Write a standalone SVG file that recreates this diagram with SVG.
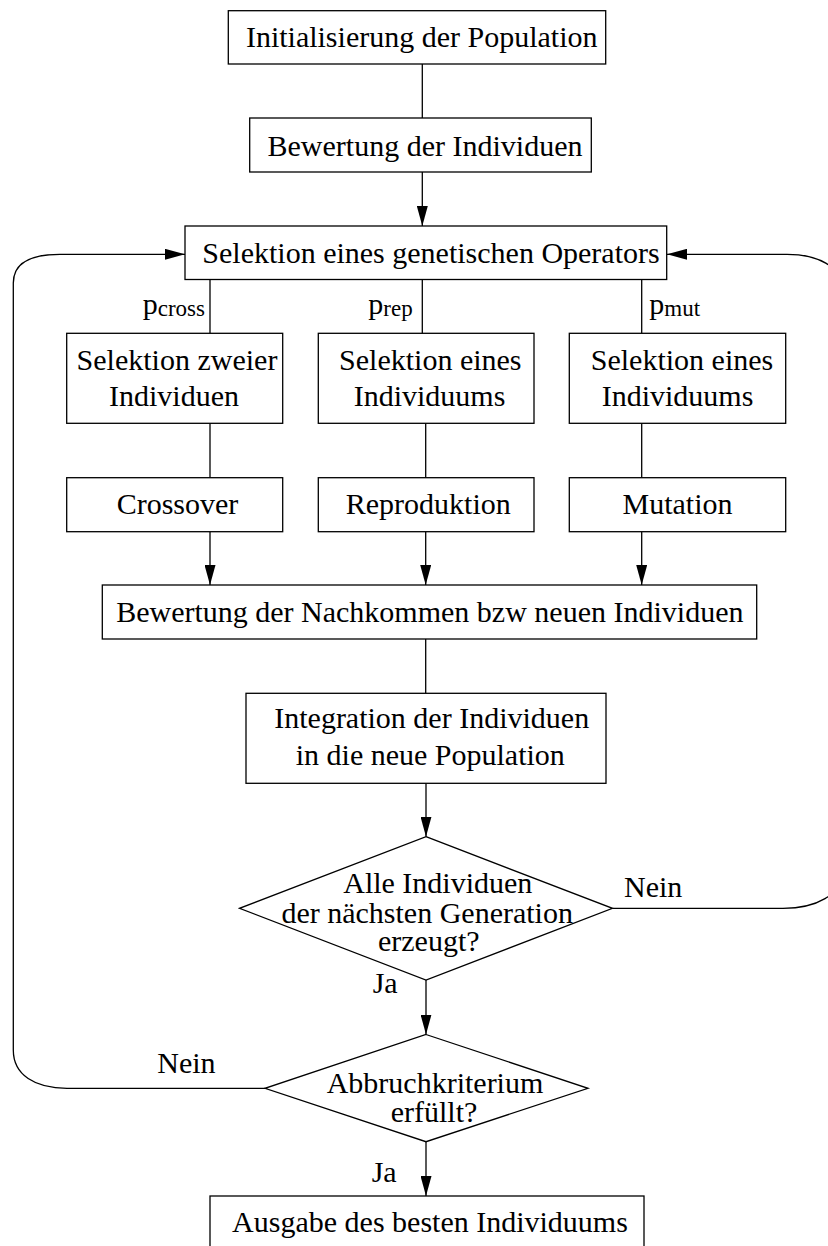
<svg xmlns="http://www.w3.org/2000/svg" width="828" height="1246" viewBox="0 0 828 1246">
<style>
.box{fill:#fff;stroke:#000;stroke-width:1.3}
.conn{fill:none;stroke:#000;stroke-width:1.3}
text{font-family:"Liberation Serif","Times New Roman",serif;font-size:30px;fill:#000}
.m{text-anchor:middle}
.sub{font-size:23px}
</style>
<defs>
<marker id="ah" markerUnits="userSpaceOnUse" markerWidth="20" markerHeight="11" refX="20" refY="5.5" orient="auto">
<path d="M0,0 L20,5.5 L0,11 z" fill="#000"/>
</marker>
</defs>
<rect width="828" height="1246" fill="#fff"/>
<g id="connectors">
<line class="conn" x1="422.3" y1="64" x2="422.3" y2="118"/>
<line class="conn" x1="422.3" y1="172" x2="422.3" y2="226" marker-end="url(#ah)"/>
<line class="conn" x1="210" y1="279.5" x2="210" y2="333.3"/>
<line class="conn" x1="422.3" y1="279.5" x2="422.3" y2="333.3"/>
<line class="conn" x1="641.7" y1="279.5" x2="641.7" y2="333.3"/>
<line class="conn" x1="210" y1="423.3" x2="210" y2="477.7"/>
<line class="conn" x1="425.7" y1="423.3" x2="425.7" y2="477.7"/>
<line class="conn" x1="641.7" y1="423.3" x2="641.7" y2="477.7"/>
<line class="conn" x1="210" y1="531.7" x2="210" y2="585" marker-end="url(#ah)"/>
<line class="conn" x1="425.7" y1="531.7" x2="425.7" y2="585" marker-end="url(#ah)"/>
<line class="conn" x1="641.7" y1="531.7" x2="641.7" y2="585" marker-end="url(#ah)"/>
<line class="conn" x1="425.7" y1="639" x2="425.7" y2="693.3"/>
<line class="conn" x1="426" y1="783.3" x2="426" y2="836.7" marker-end="url(#ah)"/>
<line class="conn" x1="426" y1="980" x2="426" y2="1034.5" marker-end="url(#ah)"/>
<line class="conn" x1="426" y1="1141.7" x2="426" y2="1196" marker-end="url(#ah)"/>
<path class="conn" d="M612.5,908.3 H783 C815,908.3 843,896 843,868 V292 C843,266 817,254.3 787,254.3 H667" marker-end="url(#ah)"/>
<path class="conn" d="M265,1088.3 H67 C35,1088.3 13.3,1075 13.3,1050 V283 C13.3,263 30,254.3 60,254.3 H185" marker-end="url(#ah)"/>
<text x="157.3" y="1073.3">Nein</text>
<text x="624" y="897.3">Nein</text>
<text x="372.7" y="993.3">Ja</text>
<text x="371.7" y="1181.7">Ja</text>
<text x="142.7" y="313.5">p<tspan class="sub" dy="2.5">cross</tspan></text>
<text x="368.3" y="313.5">p<tspan class="sub" dy="2.5">rep</tspan></text>
<text x="649.3" y="313.5">p<tspan class="sub" dy="2.5">mut</tspan></text>
</g>
<g id="n1"><rect class="box" x="228.3" y="10.7" width="377.4" height="53.3"/><text class="m" x="421.7" y="46.7">Initialisierung der Population</text></g>
<g id="n2"><rect class="box" x="249.7" y="118" width="341.6" height="54"/><text class="m" x="425" y="155.5">Bewertung der Individuen</text></g>
<g id="n3"><rect class="box" x="185" y="226" width="481.7" height="53.5"/><text class="m" x="431" y="262.5">Selektion eines genetischen Operators</text></g>
<g id="n4"><rect class="box" x="66.7" y="333.3" width="216" height="90"/><text class="m" x="177" y="370">Selektion zweier</text><text class="m" x="174" y="405.7">Individuen</text></g>
<g id="n5"><rect class="box" x="318.3" y="333.3" width="215.7" height="90"/><text class="m" x="430.3" y="370">Selektion eines</text><text class="m" x="429.5" y="405.7">Individuums</text></g>
<g id="n6"><rect class="box" x="569.3" y="333.3" width="216.4" height="90"/><text class="m" x="682" y="370">Selektion eines</text><text class="m" x="677.5" y="405.7">Individuums</text></g>
<g id="n7"><rect class="box" x="66.7" y="477.7" width="216" height="54"/><text class="m" x="177.5" y="514">Crossover</text></g>
<g id="n8"><rect class="box" x="318.3" y="477.7" width="215.7" height="54"/><text class="m" x="428.3" y="514">Reproduktion</text></g>
<g id="n9"><rect class="box" x="569.3" y="477.7" width="216.4" height="54"/><text class="m" x="677.5" y="514">Mutation</text></g>
<g id="n10"><rect class="box" x="102.3" y="585" width="654.4" height="54"/><text class="m" x="429.8" y="621.7">Bewertung der Nachkommen bzw neuen Individuen</text></g>
<g id="n11"><rect class="box" x="246" y="693.3" width="360" height="90"/><text class="m" x="431.7" y="728.3">Integration der Individuen</text><text class="m" x="430.3" y="765">in die neue Population</text></g>
<g id="d1"><polygon class="box" points="426,836.7 612.5,908.3 426,980 239.5,908.3"/><text class="m" x="437.8" y="893.3">Alle Individuen</text><text class="m" x="427.2" y="922.7">der nächsten Generation</text><text class="m" x="428.8" y="950.7">erzeugt?</text></g>
<g id="d2"><polygon class="box" points="426,1034.5 588,1088.3 426,1141.7 265,1088.3"/><text class="m" x="435" y="1092.7">Abbruchkriterium</text><text class="m" x="434" y="1121.7">erfüllt?</text></g>
<g id="n12"><rect class="box" x="210" y="1196" width="434" height="80"/><text class="m" x="430" y="1231.7">Ausgabe des besten Individuums</text></g>
</svg>
